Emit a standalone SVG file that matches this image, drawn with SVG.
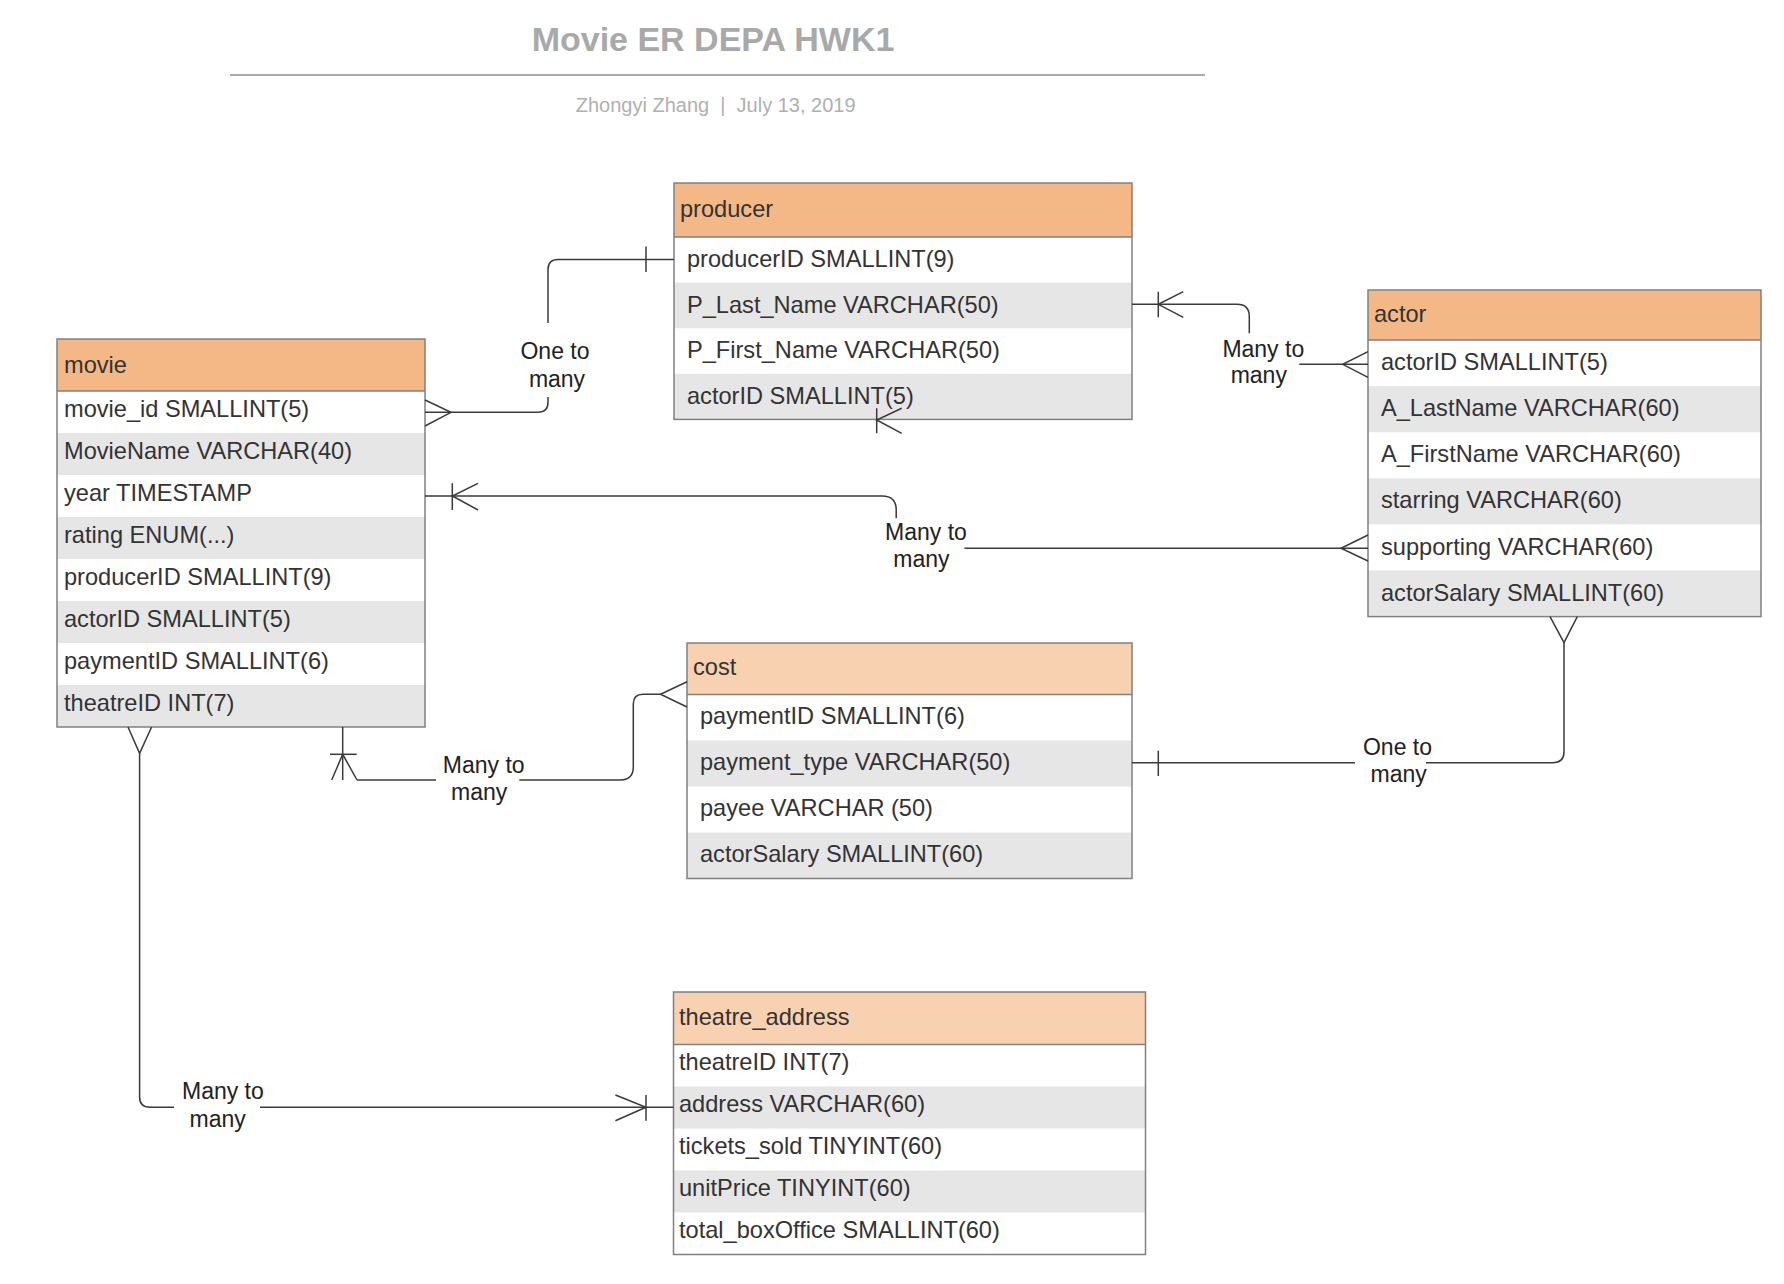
<svg xmlns="http://www.w3.org/2000/svg" width="1784" height="1284" viewBox="0 0 1784 1284">
<style>
text{font-family:"Liberation Sans",Arial,sans-serif;}
.t{font-size:23.6px;fill:#333;}
.lbl{font-size:23px;fill:#222;text-anchor:middle;}
.box{fill:none;stroke:#808080;stroke-width:1.5;}
.h1{fill:#f3b886;}
.h2{fill:#f8d2b0;}
.g{fill:#e6e6e6;}
.w{fill:#fff;}
.c{fill:none;stroke:#3a3a3a;stroke-width:1.5;}
</style>
<rect width="1784" height="1284" fill="#fff"/>
<g id="title">
<text x="713" y="50.5" font-size="34" font-weight="bold" fill="#a9a9a9" text-anchor="middle">Movie ER DEPA HWK1</text>
<line x1="230" y1="75" x2="1205" y2="75" stroke="#aaa" stroke-width="2"/>
<text x="715.7" y="111.7" font-size="20" fill="#b0b0b0" text-anchor="middle" xml:space="preserve" style="white-space:pre">Zhongyi Zhang  |  July 13, 2019</text>
</g>

<g id="movie">
<rect class="w" x="57" y="339" width="368" height="388"/>
<rect class="h1" x="57" y="339" width="368" height="52"/>
<rect class="g" x="57" y="433" width="368" height="42"/>
<rect class="g" x="57" y="517" width="368" height="42"/>
<rect class="g" x="57" y="601" width="368" height="42"/>
<rect class="g" x="57" y="685" width="368" height="42"/>
<line class="box" x1="57" y1="391" x2="425" y2="391"/>
<rect class="box" x="57" y="339" width="368" height="388"/>
<text class="t" x="64" y="372.5">movie</text>
<text class="t" x="64" y="416.5">movie_id SMALLINT(5)</text>
<text class="t" x="64" y="458.5">MovieName VARCHAR(40)</text>
<text class="t" x="64" y="500.5">year TIMESTAMP</text>
<text class="t" x="64" y="542.5">rating ENUM(...)</text>
<text class="t" x="64" y="584.5">producerID SMALLINT(9)</text>
<text class="t" x="64" y="626.5">actorID SMALLINT(5)</text>
<text class="t" x="64" y="668.5">paymentID SMALLINT(6)</text>
<text class="t" x="64" y="710.5">theatreID INT(7)</text>
</g>

<g id="producer">
<rect class="w" x="674" y="183" width="458" height="236.4"/>
<rect class="h1" x="674" y="183" width="458" height="54"/>
<rect class="g" x="674" y="282.6" width="458" height="45.6"/>
<rect class="g" x="674" y="373.8" width="458" height="45.6"/>
<line class="box" x1="674" y1="237" x2="1132" y2="237"/>
<rect class="box" x="674" y="183" width="458" height="236.4"/>
<text class="t" x="680" y="217">producer</text>
<text class="t" x="687" y="267.1">producerID SMALLINT(9)</text>
<text class="t" x="687" y="312.7">P_Last_Name VARCHAR(50)</text>
<text class="t" x="687" y="358.3">P_First_Name VARCHAR(50)</text>
<text class="t" x="687" y="403.9">actorID SMALLINT(5)</text>
</g>

<g id="actor">
<rect class="w" x="1368" y="290" width="393" height="326.6"/>
<rect class="h1" x="1368" y="290" width="393" height="50"/>
<rect class="g" x="1368" y="386.1" width="393" height="46.1"/>
<rect class="g" x="1368" y="478.3" width="393" height="46.1"/>
<rect class="g" x="1368" y="570.5" width="393" height="46.1"/>
<line class="box" x1="1368" y1="340" x2="1761" y2="340" stroke-width="2.5"/>
<rect class="box" x="1368" y="290" width="393" height="326.6"/>
<text class="t" x="1374" y="322">actor</text>
<text class="t" x="1381" y="370">actorID SMALLINT(5)</text>
<text class="t" x="1381" y="416.2">A_LastName VARCHAR(60)</text>
<text class="t" x="1381" y="462.3">A_FirstName VARCHAR(60)</text>
<text class="t" x="1381" y="508.4">starring VARCHAR(60)</text>
<text class="t" x="1381" y="554.5">supporting VARCHAR(60)</text>
<text class="t" x="1381" y="600.6">actorSalary SMALLINT(60)</text>
</g>

<g id="cost">
<rect class="w" x="687" y="643" width="445" height="235.5"/>
<rect class="h2" x="687" y="643" width="445" height="51.5"/>
<rect class="g" x="687" y="740.5" width="445" height="46"/>
<rect class="g" x="687" y="832.5" width="445" height="46"/>
<line class="box" x1="687" y1="694.5" x2="1132" y2="694.5"/>
<rect class="box" x="687" y="643" width="445" height="235.5"/>
<text class="t" x="693" y="674.5">cost</text>
<text class="t" x="700" y="724">paymentID SMALLINT(6)</text>
<text class="t" x="700" y="770">payment_type VARCHAR(50)</text>
<text class="t" x="700" y="816">payee VARCHAR (50)</text>
<text class="t" x="700" y="862">actorSalary SMALLINT(60)</text>
</g>

<g id="theatre_address">
<rect class="w" x="673.5" y="992" width="472" height="262.5"/>
<rect class="h2" x="673.5" y="992" width="472" height="52.5"/>
<rect class="g" x="673.5" y="1086.5" width="472" height="42"/>
<rect class="g" x="673.5" y="1170.5" width="472" height="42"/>
<line class="box" x1="673.5" y1="1044.5" x2="1145.5" y2="1044.5"/>
<rect class="box" x="673.5" y="992" width="472" height="262.5"/>
<text class="t" x="679" y="1025">theatre_address</text>
<text class="t" x="679" y="1069.5">theatreID INT(7)</text>
<text class="t" x="679" y="1111.5">address VARCHAR(60)</text>
<text class="t" x="679" y="1153.5">tickets_sold TINYINT(60)</text>
<text class="t" x="679" y="1195.5">unitPrice TINYINT(60)</text>
<text class="t" x="679" y="1237.5">total_boxOffice SMALLINT(60)</text>
</g>

<g id="connectors">
<!-- movie - producer : One to many -->
<path class="c" d="M425,412.3 H538 Q548,412.3 548,402.3 V397"/>
<path class="c" d="M548,323 V269.5 Q548,259.5 558,259.5 H674"/>
<path class="c" d="M425,400 L451,412.3 L425,426"/>
<path class="c" d="M646,246.5 V272"/>
<text class="lbl" x="555" y="359">One to</text>
<text class="lbl" x="557" y="386.5">many</text>

<!-- producer - actor : Many to many -->
<path class="c" d="M1132,304.3 H1237 Q1249.3,304.3 1249.3,316.6 V333.3"/>
<path class="c" d="M1158.3,291.7 V317.3 M1183.3,291.7 L1158.3,304.3 L1183.3,317.3"/>
<path class="c" d="M1299.3,364.3 H1368"/>
<path class="c" d="M1368,351.7 L1342.7,364.3 L1368,377.3"/>
<text class="lbl" x="1263.3" y="356.7">Many to</text>
<text class="lbl" x="1258.8" y="382.7">many</text>

<!-- dangling marker under producer -->
<path class="c" d="M876.7,408.3 V433.3 M901.7,408.3 L876.7,420 L901.7,433.3"/>

<!-- movie year - actor supporting : Many to many -->
<path class="c" d="M425,496 H882 Q896.2,496 896.2,510 V518.3"/>
<path class="c" d="M452.3,483.3 V510 M478,483.3 L452.3,496 L478,510"/>
<path class="c" d="M964.4,548.3 H1368"/>
<path class="c" d="M1368,535 L1341,548.3 L1368,561"/>
<text class="lbl" x="926" y="540">Many to</text>
<text class="lbl" x="921.4" y="566.7">many</text>

<!-- movie - cost : Many to many -->
<path class="c" d="M342.7,727 V780" stroke-width="2.2"/>
<path class="c" d="M330,754.3 H356.7"/>
<path class="c" d="M331.7,780 L342.7,754.3 L357,780"/>
<path class="c" d="M357,780 H436"/>
<path class="c" d="M519.3,780 H620 Q633.3,780 633.3,767 V704 Q633.3,694.3 643,694.3 H660.5"/>
<path class="c" d="M687,681.7 L660.5,694.3 L687,707"/>
<text class="lbl" x="483.7" y="773.3">Many to</text>
<text class="lbl" x="479.2" y="800">many</text>

<!-- actor - cost : One to many -->
<path class="c" d="M1550,616.7 L1564,642.7 L1577.3,616.7"/>
<path class="c" d="M1564,642.7 V751.7 Q1564,762.7 1553,762.7 H1426"/>
<path class="c" d="M1355,762.7 H1132"/>
<path class="c" d="M1158.3,750.7 V776"/>
<text class="lbl" x="1397.5" y="755">One to</text>
<text class="lbl" x="1398.7" y="781.7">many</text>

<!-- movie - theatre_address : Many to many -->
<path class="c" d="M128,727 L139.6,753.3 L151.6,727"/>
<path class="c" d="M139.6,753.3 V1097 Q139.6,1107.3 150,1107.3 H174"/>
<path class="c" d="M260,1107.3 H673.5"/>
<path class="c" d="M615.4,1095 L646,1107.3 L615.4,1120.7 M646,1095 V1120.7"/>
<text class="lbl" x="222.9" y="1099.3">Many to</text>
<text class="lbl" x="217.7" y="1126.7">many</text>
</g>
</svg>
